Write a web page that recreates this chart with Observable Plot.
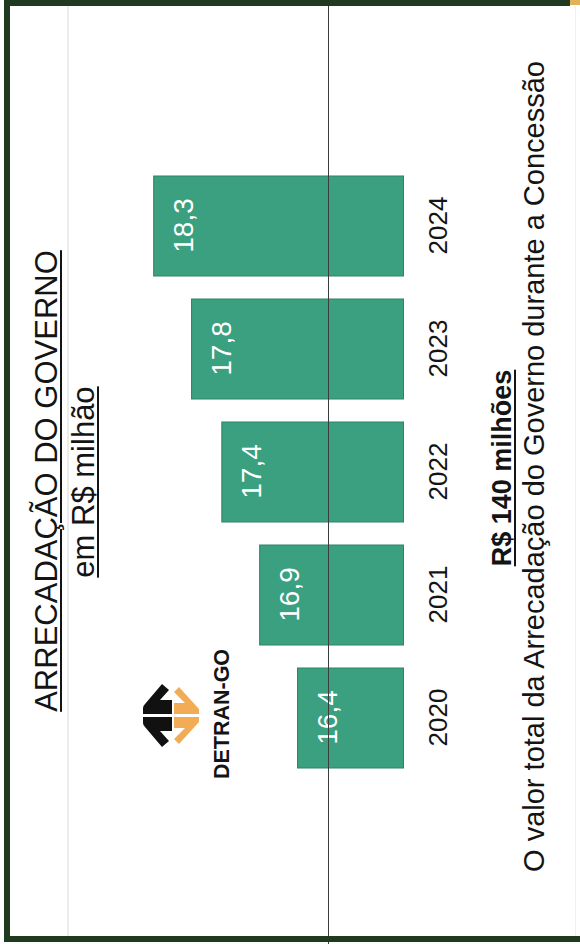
<!DOCTYPE html>
<html>
<head>
<meta charset="utf-8">
<script src="https://cdn.jsdelivr.net/npm/d3@7"></script>
<script src="https://cdn.jsdelivr.net/npm/@observablehq/plot@0.6"></script>
<style>
  html, body { margin: 0; padding: 0; background: #fff; }
  #page { position: relative; width: 580px; height: 944px; overflow: hidden; background: #fff; }
  #land { position: absolute; left: 0; top: 0; width: 944px; height: 580px;
          transform-origin: 0 0; transform: translateY(944px) rotate(-90deg);
          font-family: "Liberation Sans", Arial, Helvetica, sans-serif; color: #141414; }
  .txt { position: absolute; width: 1400px; text-align: center; white-space: nowrap; }
  .deco { position: absolute; }
  #chart { position: absolute; left: 0; top: 0; }
</style>
</head>
<body>
<div id="page">
  <div class="deco" style="left:67px;top:6px;width:2px;height:930px;background:#ececec"></div>
  <div class="deco" style="left:575px;top:6px;width:1px;height:930px;background:#f0f0f0"></div>
  <div id="land">
    <div id="chart"></div>
  </div>
  <div class="deco" style="left:327.5px;top:0;width:1.5px;height:944px;background:#3c3c3c;z-index:5"></div>
  <div class="deco" style="left:4px;top:0;width:6px;height:942px;background:#1f3a1f;z-index:6"></div>
  <div class="deco" style="left:4px;top:0;width:566px;height:6px;background:#1f3a1f;z-index:6"></div>
  <div class="deco" style="left:570px;top:0;width:10px;height:5px;background:#e2b25a;z-index:6"></div>
  <div class="deco" style="left:4px;top:936px;width:576px;height:6px;background:#1f3a1f;z-index:6"></div>
</div>
<script>
// ---- data ----
const years = ["2020", "2021", "2022", "2023", "2024"];
const values = [16.4, 16.9, 17.4, 17.8, 18.3];
const valueLabels = ["16,4", "16,9", "17,4", "17,8", "18,3"];
const yDomain = [15, 19];

const title = "ARRECADAÇÃO DO GOVERNO";
const subtitle = "em R$ milhão";
const brand = "DETRAN-GO";
const totalText = "R$ 140 milhões";
const caption = "O valor total da Arrecadação do Governo durante a Concessão";

const data = years.map((y, i) => ({year: y, value: values[i], label: valueLabels[i]}));

const chart = Plot.plot({
  width: 944,
  height: 580,
  marginTop: 100.7,
  marginBottom: 176.5,
  marginLeft: 163.6,
  marginRight: 163.6,
  style: {background: "transparent", fontFamily: "'Liberation Sans', Arial, sans-serif", color: "#141414", overflow: "visible"},
  x: {domain: years, paddingInner: 0.185, paddingOuter: 0.0925, label: null},
  y: {domain: yDomain, axis: null},
  marks: [
    Plot.barY(data, {x: "year", y1: yDomain[0], y2: "value", fill: "#3aa07f", stroke: "#2d8466", strokeWidth: 1}),
    Plot.text(data, {x: "year", y: "value", text: "label", fill: "#ffffff", fontSize: 28, lineAnchor: "top", dy: 19}),
    Plot.axisX({tickSize: 0, tickPadding: 24.5, fontSize: 26, label: null, color: "#141414"})
  ]
});
document.getElementById("chart").appendChild(chart);

const land = document.getElementById("land");
function addText(str, cx, baseline, fs, opts = {}) {
  const d = document.createElement("div");
  d.className = "txt";
  d.textContent = str;
  d.style.left = (cx - 700) + "px";
  d.style.top = (baseline - 0.8465 * fs) + "px";
  d.style.fontSize = fs + "px";
  d.style.lineHeight = fs + "px";
  if (opts.bold) d.style.fontWeight = "bold";
  if (opts.underline) {
    d.style.textDecoration = "underline";
    d.style.textDecorationThickness = (opts.ut || 2) + "px";
    d.style.textUnderlineOffset = (opts.uo || 3) + "px";
  }
  land.appendChild(d);
}
addText(title, 463, 57, 31, {underline: true, ut: 2, uo: 3});
addText(subtitle, 462, 94, 31, {underline: true, ut: 2, uo: 3});
addText(brand, 230, 230, 21.5, {bold: true});
addText(totalText, 476, 512, 27, {bold: true, underline: true, ut: 2, uo: 3});
addText(caption, 477.5, 545, 29);

// logo (decorative)
const ns = "http://www.w3.org/2000/svg";
const logo = document.createElementNS(ns, "svg");
logo.setAttribute("width", 66);
logo.setAttribute("height", 60);
logo.style.position = "absolute";
logo.style.left = "196px";
logo.style.top = "142px";
logo.innerHTML = `
  <path d="M31,1 L25,1 Q23,1 21,3 L1,20 L7,27 L17,18 L17,30 L31,30 Z" fill="#111"/>
  <path d="M34,1 L40,1 Q42,1 44,3 L64,20 L58,27 L48,18 L48,30 L34,30 Z" fill="#111"/>
  <path d="M9,32 L4,37 L26,57 L31,57 L31,32 L20,32 L20,43 Z" fill="#f2ac55"/>
  <path d="M56,32 L61,37 L39,57 L34,57 L34,32 L45,32 L45,43 Z" fill="#f2ac55"/>`;
land.appendChild(logo);
</script>
</body>
</html>
